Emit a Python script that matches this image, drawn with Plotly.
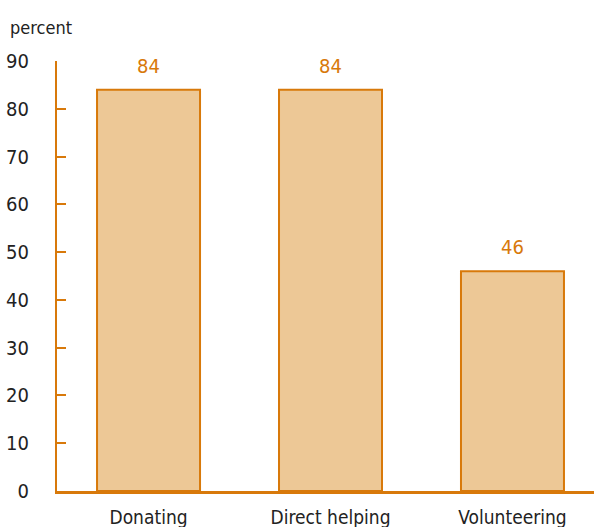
import plotly.graph_objects as go

categories = ["Donating", "Direct helping", "Volunteering"]
values = [84, 84, 46]
y_ticks = [0, 10, 20, 30, 40, 50, 60, 70, 80, 90]

ORANGE = "#D8790A"
FILL = "#EDC896"
FONT = "Liberation Sans Narrow, Arial Narrow, DejaVu Sans Condensed, sans-serif"

xs = list(range(len(categories)))

fig = go.Figure()
fig.add_trace(go.Bar(
    x=xs, y=values, width=0.566,
    marker=dict(color=FILL, line=dict(color=ORANGE, width=2)),
    hoverinfo="skip",
))

for x, v in zip(xs, values):
    fig.add_annotation(x=x, y=v, text=str(v), showarrow=False,
                       yanchor="bottom", yshift=10,
                       font=dict(family=FONT, size=20, color=ORANGE))

fig.add_annotation(x=0, xref="paper", xanchor="left", xshift=-49,
                   y=1, yref="paper", yanchor="bottom", yshift=21,
                   text="percent", showarrow=False,
                   font=dict(family=FONT, size=18, color="#222222"))

fig.update_layout(
    width=594, height=527,
    margin=dict(l=57, r=0, t=61, b=36),
    paper_bgcolor="white", plot_bgcolor="white",
    showlegend=False,
    font=dict(family=FONT, color="#222222"),
    xaxis=dict(
        range=[-0.503, 2.448], tickvals=xs, ticktext=categories,
        showgrid=False, zeroline=False, showline=True,
        linecolor=ORANGE, linewidth=3, ticks="",
        tickfont=dict(family=FONT, size=19, color="#222222"),
        ticklabelstandoff=7,
    ),
    yaxis=dict(
        range=[0, 90], tickvals=y_ticks, showgrid=False, zeroline=False,
        showline=True, linecolor=ORANGE, linewidth=2,
        ticks="inside", ticklen=9, tickwidth=2, tickcolor=ORANGE,
        tickfont=dict(family=FONT, size=20, color="#222222"),
        ticklabelstandoff=22,
    ),
)

fig.write_html("out.html")
